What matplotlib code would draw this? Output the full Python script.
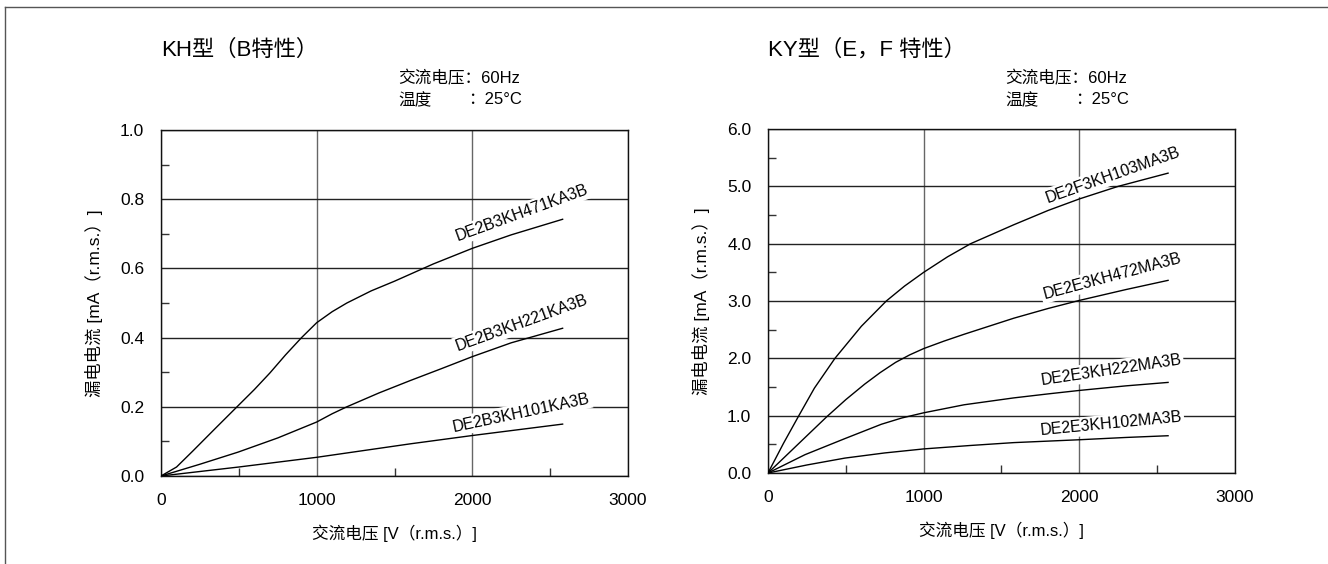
import numpy as np
import matplotlib.pyplot as plt
from matplotlib.lines import Line2D

plt.rcParams['font.family'] = ['Liberation Sans', 'Noto Sans CJK SC', 'DejaVu Sans']

# KH type (B characteristic)
kh_names = ["DE2B3KH471KA3B", "DE2B3KH221KA3B", "DE2B3KH101KA3B"]
kh_471_v = [0, 100, 204, 350, 495, 600, 700, 800, 903, 1000, 1100, 1194, 1350, 1500, 1750, 2000, 2250, 2580]
kh_471_i = [0, 0.026, 0.072, 0.138, 0.203, 0.25, 0.298, 0.35, 0.40, 0.443, 0.475, 0.50, 0.535, 0.563, 0.613, 0.658, 0.697, 0.742]
kh_221_v = [0, 250, 495, 750, 1000, 1100, 1194, 1400, 1602, 1800, 2000, 2250, 2580]
kh_221_i = [0, 0.034, 0.069, 0.11, 0.156, 0.18, 0.20, 0.24, 0.276, 0.31, 0.345, 0.385, 0.427]
kh_101_v = [0, 500, 1000, 1602, 2000, 2580]
kh_101_i = [0, 0.026, 0.054, 0.093, 0.117, 0.150]

# KY type (E, F characteristic)
ky_names = ["DE2F3KH103MA3B", "DE2E3KH472MA3B", "DE2E3KH222MA3B", "DE2E3KH102MA3B"]
ky_103_v = [0, 100, 196, 298, 430, 600, 760, 877, 1000, 1153, 1302, 1579, 1800, 2000, 2250, 2570]
ky_103_i = [0, 0.52, 0.99, 1.48, 2.0, 2.56, 3.0, 3.26, 3.50, 3.77, 4.0, 4.33, 4.58, 4.78, 5.0, 5.23]
ky_472_v = [0, 200, 377, 500, 621, 720, 820, 910, 1000, 1130, 1260, 1579, 1800, 2000, 2300, 2570]
ky_472_i = [0, 0.52, 0.98, 1.28, 1.55, 1.75, 1.93, 2.06, 2.17, 2.30, 2.42, 2.70, 2.87, 3.01, 3.2, 3.36]
ky_222_v = [0, 238, 494, 728, 860, 1000, 1260, 1579, 1800, 2000, 2300, 2570]
ky_222_i = [0, 0.32, 0.60, 0.85, 0.96, 1.05, 1.19, 1.31, 1.38, 1.44, 1.52, 1.58]
ky_102_v = [0, 250, 494, 750, 1000, 1300, 1579, 2000, 2300, 2570]
ky_102_i = [0, 0.14, 0.26, 0.35, 0.42, 0.48, 0.53, 0.58, 0.62, 0.65]

fig = plt.figure(figsize=(13.28, 5.64), dpi=100)

# outer frame (top and left edges)
fig.add_artist(Line2D([5 / 1328, 1], [1 - 7 / 564, 1 - 7 / 564], color="#555555", lw=1))
fig.add_artist(Line2D([5 / 1328, 5 / 1328], [0, 1 - 7 / 564], color="#555555", lw=1))


def setup(ax, ymax, ystep, yfmt):
    ax.set_xlim(0, 3000)
    ax.set_ylim(0, ymax)
    ax.set_xticks([0, 1000, 2000, 3000])
    ax.set_xticks([500, 1500, 2500], minor=True)
    ax.set_yticks(np.arange(0, ymax + ystep / 2, ystep))
    ax.set_yticks(np.arange(ystep / 2, ymax, ystep), minor=True)
    ax.yaxis.set_major_formatter(plt.FormatStrFormatter(yfmt))
    ax.tick_params(which="major", length=0, pad=12, labelsize=12.5)
    ax.tick_params(which="minor", direction="in", length=6, width=1, color="#333333")
    ax.xaxis.grid(True, color="#666666", lw=1)
    ax.yaxis.grid(True, color="#222222", lw=1)
    for s in ax.spines.values():
        s.set_color("#111111")
        s.set_linewidth(1)
    ax.set_xlabel("交流电压 [V（r.m.s.）]", fontsize=12, labelpad=12)
    ax.set_ylabel("漏电电流 [mA（r.m.s.）]", fontsize=12.5, labelpad=12)


def label(ax, x, y, text, angle):
    ax.text(x, y, text, transform=None, rotation=angle, rotation_mode="anchor",
            ha="center", va="center", fontsize=11.5, zorder=3,
            bbox=dict(facecolor="white", edgecolor="none", pad=1.5))


# left chart
ax1 = fig.add_axes([161 / 1328, 88 / 564, 467 / 1328, 346 / 564])
setup(ax1, 1.0, 0.2, "%.1f")
for v, i in [(kh_471_v, kh_471_i), (kh_221_v, kh_221_i), (kh_101_v, kh_101_i)]:
    ax1.plot(v, i, color="black", lw=1.0, zorder=4)
label(ax1, 522, 564 - 213, kh_names[0], 20)
label(ax1, 522, 564 - 323, kh_names[1], 20)
label(ax1, 521, 564 - 413, kh_names[2], 12)

fig.text(161 / 1328, 1 - 50 / 564, "KH型（B特性）", fontsize=16, va="center", ha="left")
fig.text(398 / 1328, 1 - 78 / 564, "交流电压：60Hz", fontsize=12, va="center", ha="left")
fig.text(398 / 1328, 1 - 100 / 564, "温度", fontsize=12, va="center", ha="left")
fig.text(468 / 1328, 1 - 100 / 564, "：25°C", fontsize=12, va="center", ha="left")

# right chart
ax2 = fig.add_axes([768 / 1328, 91 / 564, 467 / 1328, 344 / 564])
setup(ax2, 6.0, 1.0, "%.1f")
for v, i in [(ky_103_v, ky_103_i), (ky_472_v, ky_472_i), (ky_222_v, ky_222_i), (ky_102_v, ky_102_i)]:
    ax2.plot(v, i, color="black", lw=1.0, zorder=4)
label(ax2, 1113, 564 - 175, ky_names[0], 19.5)
label(ax2, 1112, 564 - 276, ky_names[1], 15)
label(ax2, 1111, 564 - 370, ky_names[2], 8.5)
label(ax2, 1111, 564 - 424, ky_names[3], 5.5)

fig.text(768 / 1328, 1 - 50 / 564, "KY型（E，F 特性）", fontsize=16, va="center", ha="left")
fig.text(1005 / 1328, 1 - 78 / 564, "交流电压：60Hz", fontsize=12, va="center", ha="left")
fig.text(1005 / 1328, 1 - 100 / 564, "温度", fontsize=12, va="center", ha="left")
fig.text(1075 / 1328, 1 - 100 / 564, "：25°C", fontsize=12, va="center", ha="left")

fig.savefig("out.png", dpi=100)
